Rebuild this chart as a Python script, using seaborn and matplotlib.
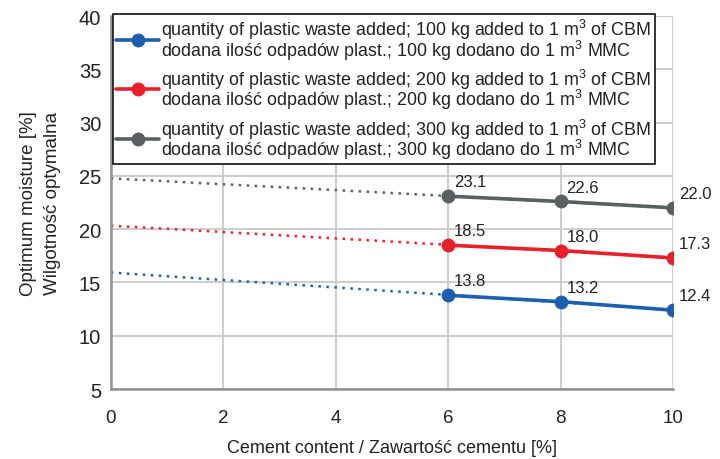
import numpy as np
import pandas as pd
import matplotlib
matplotlib.use("Agg")
import matplotlib.pyplot as plt
import seaborn as sns

# Optimum moisture vs. cement content for three plastic-waste dosages
cement = [6, 8, 10]
moisture_100 = [13.8, 13.2, 12.4]
moisture_200 = [18.5, 18.0, 17.3]
moisture_300 = [23.1, 22.6, 22.0]

labels = [
    "quantity of plastic waste added; 100 kg added to 1 m$^3$ of CBM\n"
    "dodana ilość odpadów plast.; 100 kg dodano do 1 m$^3$ MMC",
    "quantity of plastic waste added; 200 kg added to 1 m$^3$ of CBM\n"
    "dodana ilość odpadów plast.; 200 kg dodano do 1 m$^3$ MMC",
    "quantity of plastic waste added; 300 kg added to 1 m$^3$ of CBM\n"
    "dodana ilość odpadów plast.; 300 kg dodano do 1 m$^3$ MMC",
]
colors = ["#1c5fb0", "#e8202a", "#596062"]
x_ticks = [0, 2, 4, 6, 8, 10]
y_ticks = [5, 10, 15, 20, 25, 30, 35, 40]

series = [moisture_100, moisture_200, moisture_300]
df = pd.concat(
    [pd.DataFrame({"cement": cement, "moisture": vals, "series": lab})
     for vals, lab in zip(series, labels)],
    ignore_index=True,
)

sns.set_theme(style="whitegrid")
plt.rcParams["font.family"] = ["Liberation Sans", "DejaVu Sans"]
plt.rcParams["mathtext.fontset"] = "custom"
plt.rcParams["mathtext.rm"] = "Liberation Sans"

fig = plt.figure(figsize=(7.2, 4.6), dpi=100)
ax = fig.add_axes([0.154, 0.152, 0.781, 0.811])

# Linear trend of each series, extended back to zero cement (dotted)
xfit = np.array([0.0, 10.0])
for vals, col in zip(series, colors):
    k, b = np.polyfit(cement, vals, 1)
    ax.plot(xfit, k * xfit + b, linestyle=(0, (1, 2.2)), color=col,
            linewidth=1.8, zorder=2)

sns.lineplot(data=df, x="cement", y="moisture", hue="series",
             palette=colors, marker="o", markersize=10, markeredgewidth=0,
             linewidth=2.6, ax=ax, zorder=3)

# Value labels next to each point
for vals in series:
    for xv, yv in zip(cement, vals):
        ax.annotate(f"{yv:.1f}", (xv, yv), xytext=(4, 5),
                    textcoords="offset points", ha="left", va="bottom",
                    fontsize=12, color="#222222", annotation_clip=False)

ax.set_xlim(0, 10)
ax.set_ylim(5, 40)
ax.set_xticks(x_ticks)
ax.set_yticks(y_ticks)
ax.tick_params(axis="x", labelsize=13.5, colors="#222222", length=0, pad=14)
ax.tick_params(axis="y", labelsize=14.5, colors="#222222", length=0, pad=7)
ax.grid(True, color="#c8c8c8", linewidth=1.3)
for side in ["top", "right"]:
    ax.spines[side].set_visible(False)
for side in ["left", "bottom"]:
    ax.spines[side].set_color("#909090")
    ax.spines[side].set_linewidth(1.8)

ax.set_xlabel("Cement content / Zawartość cementu [%]", fontsize=13,
              color="#222222", labelpad=10)
ax.set_ylabel("Optimum moisture [%]\nWilgotność optymalna", fontsize=13.5,
              color="#222222", labelpad=13, linespacing=1.55)

handles, _ = ax.get_legend_handles_labels()
leg = ax.legend(handles, labels, loc="upper left",
                bbox_to_anchor=(0.003, 1.006), borderaxespad=0,
                fontsize=12.9, frameon=True, fancybox=False, framealpha=1,
                edgecolor="#111111", handlelength=2.4, handletextpad=0.1,
                labelspacing=0.3, borderpad=0.2)
leg.get_frame().set_linewidth(1.2)
for t in leg.get_texts():
    t.set_color("#222222")
    t.set_linespacing(0.78)

fig.savefig("out.png", dpi=100)
